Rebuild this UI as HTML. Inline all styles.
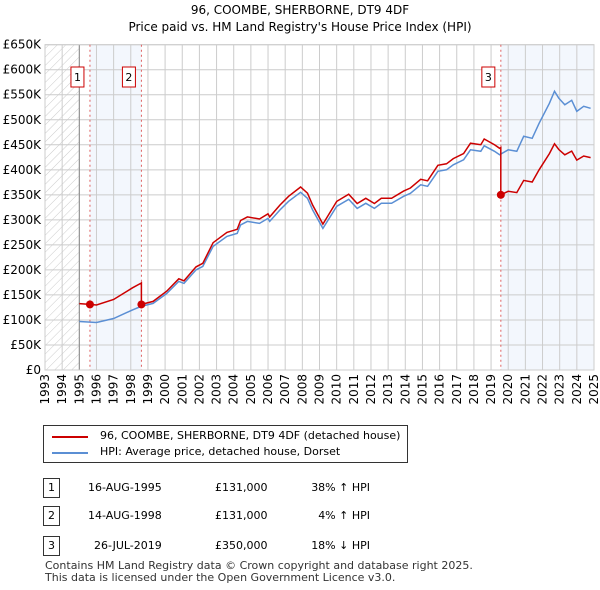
<!DOCTYPE html>
<html><head><meta charset="utf-8"><style>
body{margin:0;background:#fff;font-family:"DejaVu Sans","Liberation Sans",sans-serif;}
#wrap{position:relative;width:600px;height:590px;}
.t{position:absolute;font-size:12px;color:#000;white-space:nowrap;}
</style></head><body>
<div id="wrap">
<div class="t" style="left:0;width:600px;text-align:center;top:3px;font-size:12px">96, COOMBE, SHERBORNE, DT9 4DF</div>
<div class="t" style="left:0;width:600px;text-align:center;top:20px;font-size:12px">Price paid vs. HM Land Registry's House Price Index (HPI)</div>
<svg id="chart" width="600" height="420" style="position:absolute;left:0;top:0"></svg>
<div style="position:absolute;left:43px;top:425px;width:363px;height:36px;border:1px solid #333;background:#fff">
 <div style="position:absolute;left:8px;top:10px;width:36px;height:2px;background:#cc0000"></div>
 <div class="t" style="left:56px;top:3px;font-size:11px">96, COOMBE, SHERBORNE, DT9 4DF (detached house)</div>
 <div style="position:absolute;left:8px;top:26px;width:36px;height:2px;background:#5b8fd4"></div>
 <div class="t" style="left:56px;top:19px;font-size:11px">HPI: Average price, detached house, Dorset</div>
</div>
<div id="tbl"></div>
<div class="t" style="left:45px;top:560px;font-size:11px;color:#333;line-height:12px">Contains HM Land Registry data © Crown copyright and database right 2025.<br>This data is licensed under the Open Government Licence v3.0.</div>
</div>
<script>
const hpiYears=[1995.0,1996.0,1997.0,1998.1,1998.6,1999.3,2000.1,2000.8,2001.1,2001.8,2002.2,2002.8,2003.6,2004.2,2004.4,2004.8,2005.5,2006.0,2006.1,2006.7,2007.2,2007.9,2008.3,2008.6,2009.2,2010.0,2010.7,2011.2,2011.7,2012.2,2012.6,2013.2,2013.9,2014.3,2014.9,2015.3,2015.9,2016.4,2016.8,2017.4,2017.8,2018.4,2018.6,2019.2,2019.5,2020.0,2020.5,2020.9,2021.4,2021.8,2022.4,2022.7,2022.95,2023.3,2023.7,2024.0,2024.4,2024.8];
const hpiValues=[97,95,103,120,127,133,153,177,173,200,207,247,267,273,290,297,293,303,297,320,337,355,343,320,283,327,341,323,333,323,333,333,347,353,370,367,397,400,410,420,440,437,448,437,430,440,437,467,463,493,533,557,543,530,539,517,527,523];
const saleYears=[1995.62,1998.62,2019.57];
const salePrices=[131,131,350];
const saleLabels=["1","2","3"];
const saleDates=["16-AUG-1995","14-AUG-1998","26-JUL-2019"];
const salePriceText=["£131,000","£131,000","£350,000"];
const saleHpiText=["38% ↑ HPI","4% ↑ HPI","18% ↓ HPI"];
const yTicks=[0,50,100,150,200,250,300,350,400,450,500,550,600,650];
const xTicks=[1993,1994,1995,1996,1997,1998,1999,2000,2001,2002,2003,2004,2005,2006,2007,2008,2009,2010,2011,2012,2013,2014,2015,2016,2017,2018,2019,2020,2021,2022,2023,2024,2025];

const FONT='DejaVu Sans, Liberation Sans, sans-serif';
const X0=45,X1=594,Y0=370,Y1=44.7;
const xs=y=>X0+(y-1993)/(2025-1993)*(X1-X0);
const ys=v=>Y0-v/650*(Y0-Y1);
const svg=document.getElementById('chart');
const NS='http://www.w3.org/2000/svg';
function mk(t,a,p){const e=document.createElementNS(NS,t);for(const k in a)e.setAttribute(k,a[k]);(p||svg).appendChild(e);return e;}
const defs=mk('defs',{});
const pat=mk('pattern',{id:'hatch',width:6,height:6,patternUnits:'userSpaceOnUse',patternTransform:'rotate(45)'},defs);
mk('line',{x1:0,y1:0,x2:0,y2:6,stroke:'#ccc','stroke-width':1},pat);
const hatch=mk('rect',{x:X0,y:Y1,width:xs(1995)-X0,height:Y0-Y1,fill:'url(#hatch)'});

const sh1=mk('rect',{x:xs(saleYears[0]),y:Y1,width:xs(saleYears[1])-xs(saleYears[0]),height:Y0-Y1,fill:'#eef3fc',opacity:0.7});

const sh2=mk('rect',{x:xs(saleYears[2]),y:Y1,width:X1-xs(saleYears[2]),height:Y0-Y1,fill:'#eef3fc',opacity:0.7});

yTicks.forEach(v=>{
 const l=mk('line',{x1:X0,x2:X1,y1:ys(v),y2:ys(v),stroke:'#ccc'});
 
 const t=mk('text',{x:41,y:ys(v)+4,'text-anchor':'end','font-size':12,'font-family':FONT});
 t.textContent='£'+(v?v+'K':'0');
 
});
xTicks.forEach(y=>{
 const l=mk('line',{x1:xs(y),x2:xs(y),y1:Y1,y2:Y0,stroke:'#ccc'});
 
 const t=mk('text',{x:0,y:0,'text-anchor':'end','font-size':12,'font-family':FONT,transform:`translate(${xs(y)+4},374) rotate(-90)`});
 t.textContent=y;
 
});
const ax=mk('line',{x1:xs(1995),x2:xs(1995),y1:Y1,y2:Y0,stroke:'#888'});

const bd=mk('rect',{x:X0,y:Y1,width:X1-X0,height:Y0-Y1,fill:'none',stroke:'#ccc'});

saleYears.forEach((y,i)=>{
 const l=mk('line',{x1:xs(y),x2:xs(y),y1:Y1,y2:Y0,stroke:'#e06060','stroke-dasharray':'2,3'});
 
});
function hpiAt(y){for(let i=0;i<hpiYears.length-1;i++){if(y<=hpiYears[i+1])return hpiValues[i]+(hpiValues[i+1]-hpiValues[i])*(y-hpiYears[i])/(hpiYears[i+1]-hpiYears[i]);}return hpiValues[hpiValues.length-1];}
const bp=mk('path',{d:hpiYears.map((y,i)=>(i?'L':'M')+xs(y).toFixed(1)+','+ys(hpiValues[i]).toFixed(1)).join(''),fill:'none',stroke:'#5b8fd4','stroke-width':1.5});

const ratios=saleYears.map((y,i)=>salePrices[i]/hpiAt(y));
function ratioAt(y){let r=ratios[0];saleYears.forEach((s,i)=>{if(y>=s)r=ratios[i];});return r;}
let pts=[];
const allY=[...hpiYears,...saleYears].sort((a,b)=>a-b);
allY.forEach(y=>{
 const idx=saleYears.indexOf(y);
 if(idx>0){pts.push([y,hpiAt(y)*ratios[idx-1]]);}
 pts.push([y,hpiAt(y)*ratioAt(y)]);
});
const rp=mk('path',{d:pts.map((p,i)=>(i?'L':'M')+xs(p[0]).toFixed(1)+','+ys(p[1]).toFixed(1)).join(''),fill:'none',stroke:'#cc0000','stroke-width':1.5});

saleYears.forEach((y,i)=>{
 const c=mk('circle',{cx:xs(y),cy:ys(salePrices[i]),r:4,fill:'#cc0000'});
 
 const bx=xs(y)-19;
 const r=mk('rect',{x:bx,y:67,width:13,height:20,fill:'#fff',stroke:'#cc0000'});
 
 const t=mk('text',{x:bx+6.5,y:81,'text-anchor':'middle','font-size':11,'font-family':FONT});
 t.textContent=saleLabels[i];
 
});
const tbl=document.getElementById('tbl');
const rowY=[478,506,536];
saleLabels.forEach((s,i)=>{
 const row=document.createElement('div');
 
 
 row.style.cssText=`position:absolute;left:0;top:${rowY[i]}px;width:600px;height:20px;font-size:11px`;
 row.innerHTML=`<div style="position:absolute;left:43px;top:0;width:15px;height:18px;border:1px solid #333;text-align:center;line-height:18px">${s}</div>`+
 `<div class="t" style="left:${i==2?94:88}px;top:3px;font-size:11px">${saleDates[i]}</div>`+
 `<div class="t" style="left:215px;top:3px;font-size:11px">${salePriceText[i]}</div>`+
 `<div class="t" style="left:270px;width:100px;text-align:right;top:3px;font-size:11px">${saleHpiText[i]}</div>`;
 tbl.appendChild(row);
});
</script>
</body></html>
